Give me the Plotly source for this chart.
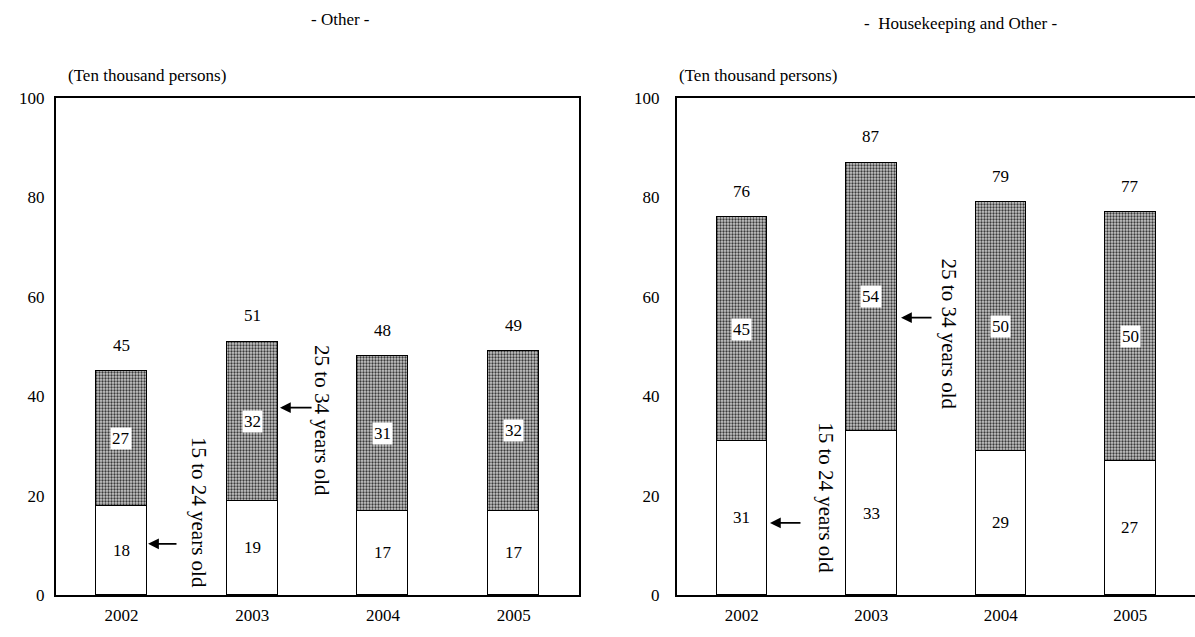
import plotly.graph_objects as go

# Unemployed persons by age group (ten thousand persons)
years = ["2002", "2003", "2004", "2005"]

other_15_24 = [18, 19, 17, 17]
other_25_34 = [27, 32, 31, 32]
other_total = [45, 51, 48, 49]

hk_15_24 = [31, 33, 29, 27]
hk_25_34 = [45, 54, 50, 50]
hk_total = [76, 87, 79, 77]

y_ticks = [0, 20, 40, 60, 80, 100]

FONT = "Liberation Serif, Times New Roman, serif"
FS = 17
BAR_W = 0.39

fig = go.Figure()

panels = [
    ("x", "y", other_15_24, other_25_34, other_total),
    ("x2", "y2", hk_15_24, hk_25_34, hk_total),
]

for xa, ya, young, adult, total in panels:
    fig.add_trace(go.Bar(
        x=years, y=young, xaxis=xa, yaxis=ya, width=BAR_W,
        marker=dict(color="white", line=dict(color="black", width=1.5)),
        showlegend=False, hoverinfo="skip",
    ))
    fig.add_trace(go.Bar(
        x=years, y=adult, base=young, xaxis=xa, yaxis=ya, width=BAR_W,
        marker=dict(
            color="#8a8a8a",
            line=dict(color="black", width=1.5),
            pattern=dict(shape=".", size=3, solidity=0.45,
                         fgcolor="#3a3a3a", bgcolor="#c8c8c8",
                         fillmode="replace"),
        ),
        showlegend=False, hoverinfo="skip",
    ))

txt = dict(family=FONT, size=FS, color="black")

annotations = []
for xa, ya, young, adult, total in panels:
    for i in range(len(years)):
        # lower segment value
        annotations.append(dict(
            x=i, y=young[i] / 2, xref=xa, yref=ya, text=str(young[i]),
            showarrow=False, font=txt))
        # upper segment value in a white box
        annotations.append(dict(
            x=i, y=young[i] + adult[i] / 2, xref=xa, yref=ya, text=str(adult[i]),
            showarrow=False, bgcolor="white", borderpad=1, font=txt))
        # total above the bar
        annotations.append(dict(
            x=i, y=total[i], xref=xa, yref=ya, text=str(total[i]),
            showarrow=False, yshift=26, font=txt))

# Age-group call-outs with arrows
callouts = [
    # xref, yref, text x, text y, arrow head x, arrow tail x, arrow y, label
    ("x", "y", 0.594, 16.7, 0.204, 0.433, 10.3, "15 to 24 years old"),
    ("x", "y", 1.534, 35.0, 1.213, 1.466, 37.7, "25 to 34 years old"),
    ("x2", "y2", 0.650, 19.5, 0.218, 0.465, 14.5, "15 to 24 years old"),
    ("x2", "y2", 1.600, 52.4, 1.230, 1.477, 55.8, "25 to 34 years old"),
]
for xa, ya, tx, ty, hx, tlx, ay, label in callouts:
    annotations.append(dict(
        x=tx, y=ty, xref=xa, yref=ya, text=label, textangle=90,
        showarrow=False, font=dict(family=FONT, size=21, color="black")))
    annotations.append(dict(
        x=hx, y=ay, xref=xa, yref=ya, ax=tlx, ay=ay, axref=xa, ayref=ya,
        text="", showarrow=True, arrowhead=2, arrowsize=1.2, arrowwidth=1.8,
        arrowcolor="black"))

# Panel titles and unit labels
annotations += [
    dict(x=340 / 1195, y=1 - 20 / 637, xref="paper", yref="paper",
         xanchor="center", yanchor="middle",
         text="- Other -", showarrow=False, font=txt),
    dict(x=960 / 1195, y=1 - 23 / 637, xref="paper", yref="paper",
         xanchor="center", yanchor="middle",
         text="-  Housekeeping and Other -", showarrow=False, font=txt),
    dict(x=66 / 1195, y=1 - 75 / 637, xref="paper", yref="paper",
         xanchor="left", yanchor="middle",
         text="(Ten thousand persons)", showarrow=False, font=txt),
    dict(x=677 / 1195, y=1 - 75 / 637, xref="paper", yref="paper",
         xanchor="left", yanchor="middle",
         text="(Ten thousand persons)", showarrow=False, font=txt),
]

y_dom = [1 - 595 / 637, 1 - 98 / 637]

fig.update_layout(
    width=1195, height=637,
    margin=dict(l=0, r=0, t=0, b=0, pad=0, autoexpand=False),
    paper_bgcolor="white", plot_bgcolor="white",
    barmode="stack", bargap=0,
    annotations=annotations,
    xaxis=dict(type="category", domain=[56 / 1195, 579 / 1195], showline=True,
               linecolor="black", linewidth=2, mirror=True, showgrid=False,
               ticks="", ticklabelstandoff=4, tickfont=txt, anchor="y",
               range=[-0.5, 3.5], automargin=False),
    yaxis=dict(domain=y_dom, range=[0, 100], tickvals=y_ticks, showline=True,
               linecolor="black", linewidth=2, mirror=True, showgrid=False,
               zeroline=False, ticks="", tickfont=txt, anchor="x",
               ticklabelstandoff=6, automargin=False),
    xaxis2=dict(type="category", domain=[677 / 1195, 1.0], showline=True,
                linecolor="black", linewidth=2, mirror=True, showgrid=False,
                ticks="", ticklabelstandoff=4, tickfont=txt, anchor="y2",
                range=[-0.5, 3.5], automargin=False),
    yaxis2=dict(domain=y_dom, range=[0, 100], tickvals=y_ticks, showline=True,
                linecolor="black", linewidth=2, mirror=False, showgrid=False,
                zeroline=False, ticks="", tickfont=txt, anchor="x2",
                ticklabelstandoff=12, automargin=False),
)

fig.write_html("out.html")
